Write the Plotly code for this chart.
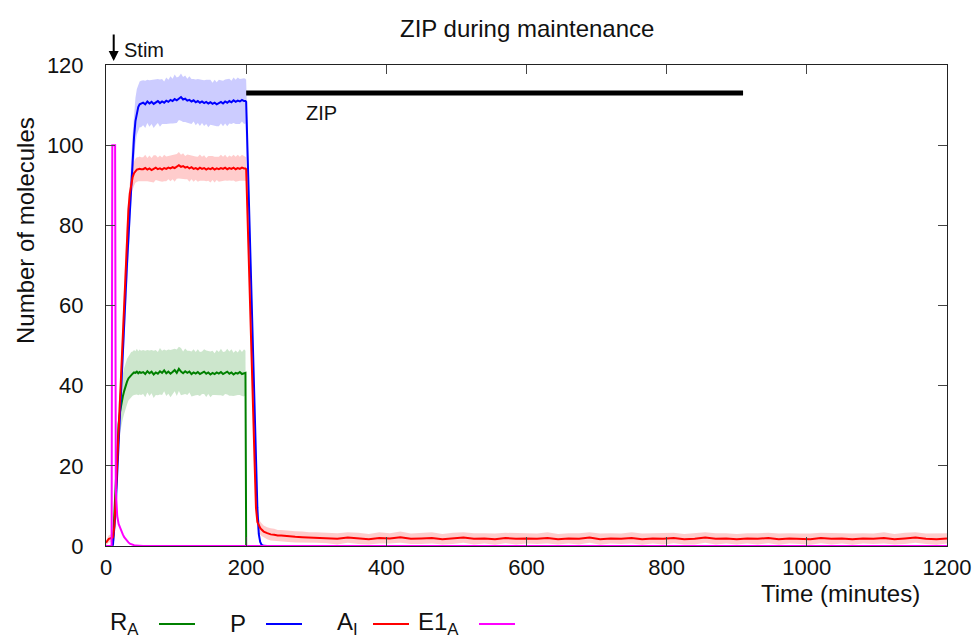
import plotly.graph_objects as go

# ---------------- data ----------------
TIME_EARLY = [0, 4, 8, 9, 10, 12, 13, 14, 15, 16, 18, 20, 22, 24, 26, 28, 30, 32, 34, 36,
              38, 40, 42, 44, 46, 48, 50]
TIME_PLATEAU = [53, 56, 59, 62, 65, 68, 71,
                74, 77, 80, 83, 86, 89, 92,
                95, 98, 101, 104, 107, 110, 113,
                116, 119, 122, 125, 128, 131, 134,
                137, 140, 143, 146, 149, 152, 155,
                158, 161, 164, 167, 170, 173, 176,
                179, 182, 185, 188, 191, 194, 197]
TIME_DROP = [199, 200, 202, 204, 206, 208, 210, 212, 214, 216, 218, 220, 222, 225, 230]
TIME_TAIL = [235, 240, 245, 250, 260, 270, 280, 290, 300,
             315, 330, 345, 360, 375, 390, 405, 420, 435, 450,
             465, 480, 495, 510, 525, 540, 555, 570, 585, 600,
             615, 630, 645, 660, 675, 690, 705, 720, 735, 750,
             765, 780, 795, 810, 825, 840, 855, 870, 885, 900,
             915, 930, 945, 960, 975, 990, 1005, 1020, 1035, 1050,
             1065, 1080, 1095, 1110, 1125, 1140, 1155, 1170, 1185, 1200]
TIME_END = [1200]

# R_A (green)
R_A_EARLY = [0, 0, 0, 0, 1, 8, 12, 16, 20, 24, 30.5, 33.5, 35.7, 37.3, 38.7,
             40, 41, 41.8, 42.3, 42.7, 43.0, 43.3, 43.2, 43.5, 43.1, 43.4, 43.2]
R_A_PLATEAU = [43.4, 42.9, 43.6, 43.1, 43.5, 42.8, 43.3,
               43.0, 43.6, 43.2, 43.8, 43.1, 43.5, 43.0,
               43.4, 43.9, 43.2, 44.2, 43.5, 43.1, 43.6,
               43.2, 43.5, 42.9, 43.3, 43.0, 43.4, 42.9,
               43.2, 43.5, 43.0, 43.3, 42.8, 43.2, 42.9,
               43.3, 43.0, 43.4, 42.9, 43.2, 43.5, 43.0,
               43.3, 42.8, 43.2, 43.0, 43.4, 42.9, 43.2]
R_A_DROP = [43.2, 0, 0, 0, 0, 0, 0, 0, 0, 0, 0, 0, 0, 0, 0]
R_A_END = [0]
R_A_SD_EARLY = [0, 0, 0, 0, 0.5, 2, 3, 3.5, 4, 4.5, 5, 5.3, 5.5, 5.6, 5.7,
                5.6, 5.7, 5.5, 5.6, 5.7, 5.5, 5.6, 5.4, 5.7, 5.5, 5.6, 5.5]
R_A_SD_PLATEAU = [5.5, 5.8, 5.3, 5.7, 5.4, 5.9, 5.6,
                  5.4, 5.8, 5.5, 5.2, 5.7, 5.5, 5.9,
                  5.6, 5.3, 5.8, 5.5, 5.9, 5.4, 5.7,
                  5.5, 5.2, 5.6, 5.8, 5.4, 5.7, 5.5,
                  5.3, 5.6, 5.8, 5.4, 5.7, 5.5, 5.2,
                  5.6, 5.4, 5.8, 5.5, 5.3, 5.7, 5.5,
                  5.8, 5.4, 5.6, 5.3, 5.7, 5.5, 5.9]
R_A_SD_DROP = [5.5, 0, 0, 0, 0, 0, 0, 0, 0, 0, 0, 0, 0, 0, 0]
R_A_SD_END = [0]

# P (blue)
P_EARLY = [0, 0, 0, 0, 0.5, 4, 7, 10.5, 14, 17.5, 24.5, 32, 40, 47.5, 55,
           63, 70.5, 77.5, 84.5, 91, 97, 102, 106, 108.3, 109.5, 110.2, 110.3]
P_PLATEAU = [110.6, 110.2, 110.9, 110.4, 110.8, 110.3, 110.7,
             111.0, 110.5, 110.9, 110.6, 111.1, 110.8, 111.3,
             111.0, 111.5, 111.2, 111.7, 112.0, 111.4, 111.6,
             111.1, 111.3, 110.9, 111.2, 110.7, 111.0, 110.6,
             110.9, 110.5, 110.8, 110.4, 110.7, 110.3, 110.6,
             110.2, 110.5, 110.8, 110.4, 110.9, 110.6, 111.0,
             110.7, 111.2, 110.8, 111.1, 110.9, 111.3, 111.0]
P_DROP = [111.0, 110.8, 98, 85, 72, 59, 46, 33, 20.5, 9.5, 3.0, 1.0, 0.3, 0.05, 0]
P_END = [0]
P_SD_EARLY = [0, 0, 0, 0, 0.2, 1, 1.5, 2, 2.5, 3, 3.5, 4, 4.3, 4.6, 4.9,
              5.1, 5.3, 5.4, 5.5, 5.6, 5.7, 5.8, 5.8, 5.7, 5.8, 5.7, 5.8]
P_SD_PLATEAU = [5.6, 5.9, 5.4, 5.8, 5.5, 6.0, 5.7,
                5.5, 5.9, 5.6, 5.3, 5.8, 5.5, 5.9,
                5.6, 6.1, 5.7, 5.4, 5.9, 5.6, 5.8,
                5.5, 5.9, 5.6, 5.3, 5.7, 5.5, 5.8,
                5.4, 5.7, 5.5, 5.9, 5.6, 5.3, 5.7,
                5.5, 5.8, 5.4, 5.7, 5.5, 5.9, 5.6,
                5.4, 5.7, 5.5, 5.8, 5.6, 5.4, 5.7]
P_SD_DROP = [5.6, 5.5, 5, 4.5, 4, 3.5, 3, 2.6, 2.2, 1.6, 0.9, 0.5, 0.2, 0.05, 0]
P_SD_END = [0]

# A_I (red)
A_I_EARLY = [0.8, 1.8, 2.0, 2.0, 2.2, 5, 9, 13, 17, 21.5, 30, 38.5, 47, 55, 63,
             71, 78.5, 84, 88, 90.5, 92, 93, 93.6, 93.9, 94.0, 94.1, 94.0]
A_I_PLATEAU = [94.0, 94.3, 93.9, 94.2, 93.8, 94.1, 94.4,
               94.0, 94.2, 93.9, 94.3, 94.1, 94.4, 94.2,
               94.5, 94.3, 94.7, 95.0, 94.6, 94.8, 94.4,
               94.6, 94.2, 94.5, 94.1, 94.3, 94.0, 94.4,
               94.1, 94.3, 93.9, 94.2, 94.0, 94.3, 93.9,
               94.2, 94.0, 94.3, 94.1, 94.4, 94.0, 94.3,
               94.1, 94.4, 94.0, 94.3, 94.1, 94.4, 94.2]
A_I_DROP = [94.2, 94.0, 83, 71, 58.5, 46, 33.5, 21, 9.5, 6.0, 5.0, 4.5, 4.1, 3.6, 3.2]
A_I_TAIL = [2.9, 2.8, 2.6, 2.6, 2.4, 2.3, 2.2, 2.1, 2.1,
            2.0, 1.8, 2.1, 1.9, 1.7, 2.0, 1.9, 2.2, 1.8, 1.9,
            2.0, 1.7, 1.9, 2.1, 1.8, 1.9, 1.7, 2.0, 1.8, 1.9,
            1.8, 2.0, 1.7, 1.9, 1.8, 2.1, 1.7, 1.9, 1.8, 2.0,
            1.7, 1.9, 1.8, 2.0, 1.7, 1.8, 2.1, 1.8, 1.9, 1.7,
            1.9, 1.8, 2.0, 1.7, 1.9, 1.8, 1.7, 2.0, 1.8, 1.9,
            1.7, 1.9, 1.8, 2.0, 1.7, 1.9, 2.1, 1.8, 1.7, 1.9]
A_I_SD_EARLY = [0.6, 0.9, 1.0, 1.0, 1.1, 1.5, 1.9, 2.2, 2.5, 2.7, 3.0, 3.2, 3.4, 3.5, 3.5,
                3.5, 3.4, 3.3, 3.2, 3.2, 3.1, 3.1, 3.0, 3.1, 3.0, 3.1, 3.0]
A_I_SD_PLATEAU = [3.0, 3.3, 2.9, 3.2, 3.0, 3.4, 3.1,
                  2.9, 3.2, 3.0, 3.3, 3.1, 2.9, 3.2,
                  3.0, 3.4, 3.1, 3.3, 3.0, 3.2, 2.9,
                  3.1, 3.3, 3.0, 3.2, 2.9, 3.1, 3.3,
                  3.0, 3.2, 2.9, 3.1, 3.3, 3.0, 3.2,
                  2.9, 3.1, 3.3, 3.0, 3.2, 2.9, 3.1,
                  3.0, 3.2, 3.1, 3.3, 3.0, 3.2, 3.1]
A_I_SD_DROP = [3.1, 3.0, 2.9, 2.8, 2.7, 2.6, 2.5, 2.3, 2.0, 1.8, 1.7, 1.6, 1.6, 1.5, 1.5]
A_I_SD_TAIL = [1.5, 1.5, 1.4, 1.4, 1.4, 1.4, 1.4, 1.3, 1.3,
               1.3, 1.4, 1.3, 1.4, 1.3, 1.4, 1.3, 1.4, 1.3, 1.4,
               1.4, 1.3, 1.4, 1.3, 1.4, 1.3, 1.4, 1.3, 1.4, 1.3,
               1.3, 1.4, 1.3, 1.3, 1.4, 1.3, 1.4, 1.3, 1.3, 1.4,
               1.4, 1.3, 1.4, 1.3, 1.3, 1.4, 1.3, 1.4, 1.3, 1.3,
               1.3, 1.4, 1.3, 1.4, 1.3, 1.3, 1.4, 1.3, 1.4, 1.3,
               1.4, 1.3, 1.3, 1.4, 1.3, 1.4, 1.3, 1.3, 1.4, 1.3]

# E1_A (magenta)
E1_A_EARLY = [0, 0, 0, 100, 100, 100, 100, 14, 10, 7.5, 5.5, 4.5, 3.6, 2.9, 2.2,
              1.7, 1.2, 0.9, 0.6, 0.4, 0.3, 0.2, 0.1, 0.05, 0, 0, 0]
E1_A_PLATEAU = [0, 0, 0, 0, 0, 0, 0,
                0, 0, 0, 0, 0, 0, 0,
                0, 0, 0, 0, 0, 0, 0,
                0, 0, 0, 0, 0, 0, 0,
                0, 0, 0, 0, 0, 0, 0,
                0, 0, 0, 0, 0, 0, 0,
                0, 0, 0, 0, 0, 0, 0]
E1_A_DROP = [0, 0, 0, 0, 0, 0, 0, 0, 0, 0, 0, 0, 0, 0, 0]
E1_A_END = [0]

# ZIP application bar and stimulus
ZIP_START, ZIP_END, ZIP_LEVEL = 200, 909, 113
ZIP_LABEL_X, ZIP_LABEL_Y = 308, 108
STIM_TIME = 11

X_TICKS = [0, 200, 400, 600, 800, 1000, 1200]
Y_TICKS = [0, 20, 40, 60, 80, 100, 120]

# ---------------- figure ----------------
FONT = "Liberation Sans, Arial, Helvetica, sans-serif"
ML, MR, MT, MB = 106, 30, 65, 91
W, H = 977, 637
PW, PH = W - ML - MR, H - MT - MB


def px2x(px):
    return (px - ML) / PW


def py2y(py):
    return (H - MB - py) / PH


t_main = TIME_EARLY + TIME_PLATEAU + TIME_DROP
series = [
    dict(name="R<sub>A</sub>", color="#008000", band="rgba(0,128,0,0.2)",
         t=t_main + TIME_END,
         mean=R_A_EARLY + R_A_PLATEAU + R_A_DROP + R_A_END,
         sd=R_A_SD_EARLY + R_A_SD_PLATEAU + R_A_SD_DROP + R_A_SD_END),
    dict(name="P", color="#0000ff", band="rgba(0,0,255,0.2)",
         t=t_main + TIME_END,
         mean=P_EARLY + P_PLATEAU + P_DROP + P_END,
         sd=P_SD_EARLY + P_SD_PLATEAU + P_SD_DROP + P_SD_END),
    dict(name="A<sub>I</sub>", color="#ff0000", band="rgba(255,0,0,0.2)",
         t=t_main + TIME_TAIL,
         mean=A_I_EARLY + A_I_PLATEAU + A_I_DROP + A_I_TAIL,
         sd=A_I_SD_EARLY + A_I_SD_PLATEAU + A_I_SD_DROP + A_I_SD_TAIL),
    dict(name="E1<sub>A</sub>", color="#ff00ff", band=None,
         t=t_main + TIME_END,
         mean=E1_A_EARLY + E1_A_PLATEAU + E1_A_DROP + E1_A_END,
         sd=None),
]

fig = go.Figure()

for s in series:
    if s["sd"] is None:
        continue
    upper = [m + d for m, d in zip(s["mean"], s["sd"])]
    lower = [max(m - d, 0) for m, d in zip(s["mean"], s["sd"])]
    fig.add_trace(go.Scatter(
        x=s["t"] + s["t"][::-1], y=upper + lower[::-1],
        fill="toself", fillcolor=s["band"], line=dict(width=0),
        mode="lines", hoverinfo="skip", showlegend=False))

for s in series:
    fig.add_trace(go.Scatter(
        x=s["t"], y=s["mean"], mode="lines", name=s["name"],
        line=dict(color=s["color"], width=2), showlegend=False))

# ZIP bar
fig.add_trace(go.Scatter(x=[ZIP_START, ZIP_END], y=[ZIP_LEVEL, ZIP_LEVEL], mode="lines",
                         line=dict(color="black", width=5), showlegend=False,
                         hoverinfo="skip"))

axis_common = dict(
    showgrid=False, zeroline=False, showline=True, linecolor="#222", linewidth=1,
    mirror="ticks", ticks="inside", ticklen=9, tickwidth=1, tickcolor="#444",
    tickfont=dict(family=FONT, size=22, color="#111"), automargin=False,
)

fig.update_xaxes(range=[0, 1200], tickvals=X_TICKS, ticklabelstandoff=2, **axis_common)
fig.update_yaxes(range=[0, 120], tickvals=Y_TICKS, ticklabelstandoff=17, **axis_common)

annotations = [
    dict(text="ZIP during maintenance", x=px2x(527), y=py2y(28), xref="paper", yref="paper",
         xanchor="center", yanchor="middle", showarrow=False,
         font=dict(family=FONT, size=24, color="#111")),
    dict(text="Time (minutes)", x=px2x(840), y=py2y(593), xref="paper", yref="paper",
         xanchor="center", yanchor="middle", showarrow=False,
         font=dict(family=FONT, size=24, color="#111")),
    dict(text="Number of molecules", x=px2x(25), y=py2y(231), xref="paper", yref="paper",
         xanchor="center", yanchor="middle", showarrow=False, textangle=-90,
         font=dict(family=FONT, size=24, color="#111")),
    dict(text="ZIP", x=ZIP_LABEL_X, y=ZIP_LABEL_Y, xref="x", yref="y",
         xanchor="center", yanchor="middle", showarrow=False,
         font=dict(family=FONT, size=20, color="#111")),
    dict(text="", x=STIM_TIME, y=py2y(61), xref="x", yref="paper", ax=0, ay=-28,
         showarrow=True, arrowhead=2, arrowsize=1, arrowwidth=2, arrowcolor="black"),
    dict(text="Stim", x=px2x(122), y=py2y(50), xref="paper", yref="paper",
         xanchor="left", yanchor="middle", showarrow=False,
         font=dict(family=FONT, size=20, color="#111")),
]

# key (text then line sample, right-justified text as in the reference)
key_text_right = [141, 248, 360, 461]
key_line_left = [159, 266, 373, 479]
KEY_Y = 624
shapes = []
for s, tx, lx in zip(series, key_text_right, key_line_left):
    annotations.append(dict(text=s["name"], x=px2x(tx), y=py2y(KEY_Y - 1), xref="paper",
                            yref="paper", xanchor="right", yanchor="middle", showarrow=False,
                            font=dict(family=FONT, size=24, color="#111")))
    shapes.append(dict(type="line", xref="paper", yref="paper", x0=px2x(lx), x1=px2x(lx + 36),
                       y0=py2y(KEY_Y), y1=py2y(KEY_Y), line=dict(color=s["color"], width=2)))

fig.update_layout(
    width=W, height=H, autosize=False,
    margin=dict(l=ML, r=MR, t=MT, b=MB, pad=0, autoexpand=False),
    paper_bgcolor="white", plot_bgcolor="white",
    annotations=annotations, shapes=shapes, showlegend=False,
    font=dict(family=FONT, color="#111"),
)

fig.write_html("out.html",
               config=dict(displayModeBar=False, responsive=False),
               post_script="document.documentElement.style.overflow='hidden';"
                           "document.body.style.margin='0';document.body.style.overflow='hidden';")
